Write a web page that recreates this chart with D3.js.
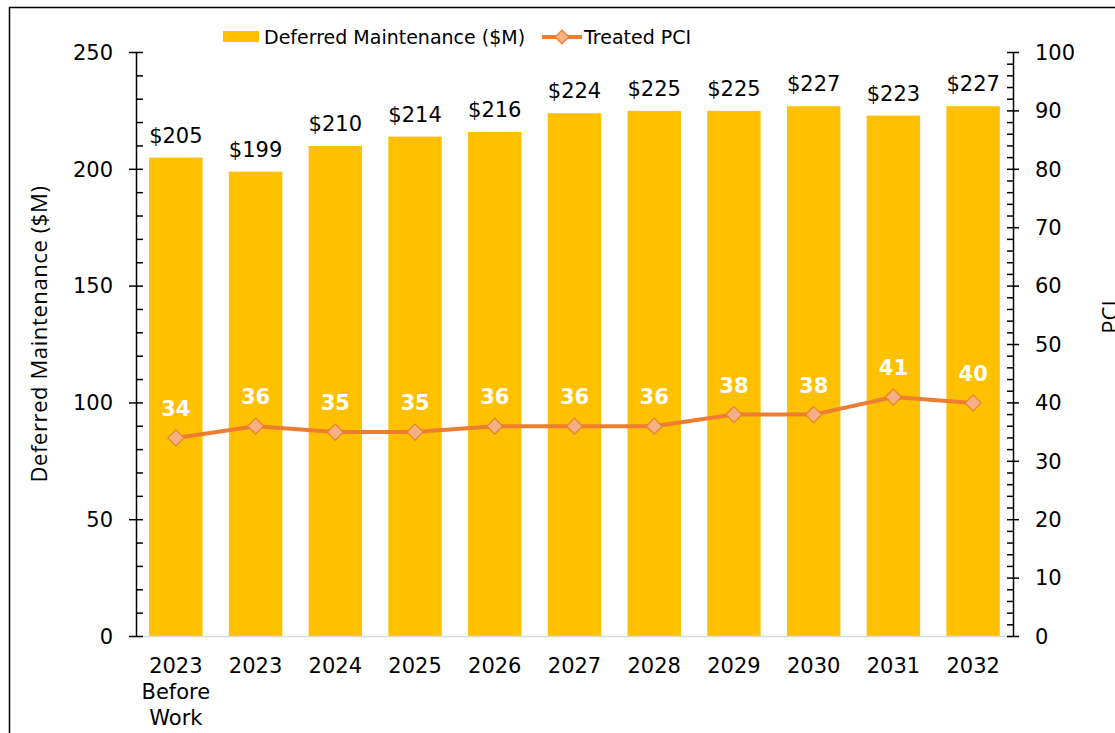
<!DOCTYPE html>
<html>
<head>
<meta charset="utf-8">
<script src="https://cdn.jsdelivr.net/npm/d3@7"></script>
<style>
  body { margin: 0; background: #fff; }
  svg { display: block; font-family: "DejaVu Sans", Verdana, sans-serif; }
</style>
</head>
<body>
<svg id="chart" width="1115" height="733"></svg>
<script>
// categories + values
var categories = ["2023|Before|Work", "2023", "2024", "2025", "2026", "2027", "2028", "2029", "2030", "2031", "2032"];
var deferred = [205, 199, 210, 214, 216, 224, 225, 225, 227, 223, 227];
var pci = [34, 36, 35, 35, 36, 36, 36, 38, 38, 41, 40];
var leftTicks = [0, 50, 100, 150, 200, 250];
var rightTicks = [0, 10, 20, 30, 40, 50, 60, 70, 80, 90, 100];

var barColor = "#FFC000";
var lineColor = "#ED7D31";
var markerFill = "#F4B183";

var svg = d3.select("#chart");
var plotLeft = 136, plotRight = 1013, plotTop = 52.5, plotBottom = 636.5;

// outer frame (right/bottom edges run off the picture)
svg.append("rect")
  .attr("x", 9.5).attr("y", 7.5)
  .attr("width", 1300).attr("height", 900)
  .attr("fill", "none").attr("stroke", "#000").attr("stroke-width", 1.5);

var x = d3.scaleBand()
  .domain(d3.range(categories.length))
  .range([plotLeft, plotRight])
  .paddingInner(0.33)
  .paddingOuter(0.165);

var y = d3.scaleLinear().domain([0, 250]).range([plotBottom, plotTop]);
var y2 = d3.scaleLinear().domain([0, 100]).range([plotBottom, plotTop]);

// bars
svg.append("g").selectAll("rect")
  .data(deferred)
  .enter().append("rect")
  .attr("x", (d, i) => x(i))
  .attr("y", d => y(d))
  .attr("width", x.bandwidth())
  .attr("height", d => y(0) - y(d))
  .attr("fill", barColor);

// bar labels
svg.append("g").selectAll("text")
  .data(deferred)
  .enter().append("text")
  .attr("x", (d, i) => x(i) + x.bandwidth() / 2)
  .attr("y", d => y(d) - 15)
  .attr("text-anchor", "middle")
  .style("font-size", "21px")
  .attr("fill", "#000")
  .text(d => "$" + d);

// baseline
svg.append("line")
  .attr("x1", plotLeft).attr("x2", plotRight)
  .attr("y1", plotBottom).attr("y2", plotBottom)
  .attr("stroke", "#d9d9d9").attr("stroke-width", 1.5);

// left axis
var gl = svg.append("g").attr("transform", "translate(" + plotLeft + ",0)");
gl.call(d3.axisLeft(y).tickValues(leftTicks).tickSize(0).tickPadding(23))
  .call(g => g.select(".domain").attr("stroke", "#000").attr("stroke-width", 1.5))
  .selectAll("text").style("font-size", "21px").attr("fill", "#000")
  .style("font-family", "DejaVu Sans, Verdana, sans-serif");
gl.selectAll(".minor").data(d3.range(0, 251, 10)).enter().append("line")
  .attr("x1", d => d % 50 == 0 ? -7 : 0).attr("x2", 7)
  .attr("y1", d => y(d)).attr("y2", d => y(d))
  .attr("stroke", "#000").attr("stroke-width", 1.5);

// right axis
var gr = svg.append("g").attr("transform", "translate(" + plotRight + ",0)");
gr.call(d3.axisRight(y2).tickValues(rightTicks).tickSize(0).tickPadding(22))
  .call(g => g.select(".domain").attr("stroke", "#000").attr("stroke-width", 1.5))
  .selectAll("text").style("font-size", "21px").attr("fill", "#000")
  .style("font-family", "DejaVu Sans, Verdana, sans-serif");
gr.selectAll(".minor").data(d3.range(0, 101, 2)).enter().append("line")
  .attr("x1", -6).attr("x2", d => d % 10 == 0 ? 6 : 0)
  .attr("y1", d => y2(d)).attr("y2", d => y2(d))
  .attr("stroke", "#000").attr("stroke-width", 1.5);

// category labels (multi-line)
var cat = svg.append("g").selectAll("text")
  .data(categories)
  .enter().append("text")
  .attr("x", (d, i) => x(i) + x.bandwidth() / 2)
  .attr("y", 673)
  .attr("text-anchor", "middle")
  .style("font-size", "21px");
cat.each(function (d, i) {
  var parts = d.split("|");
  var t = d3.select(this);
  parts.forEach(function (p, j) {
    t.append("tspan")
      .attr("x", x(i) + x.bandwidth() / 2)
      .attr("dy", j == 0 ? 0 : 26)
      .text(p);
  });
});

// axis titles
svg.append("text")
  .attr("transform", "translate(47,334) rotate(-90)")
  .attr("text-anchor", "middle")
  .style("font-family", "'Open Sans', sans-serif")
  .style("font-size", "22px")
  .style("letter-spacing", "0.6px")
  .text("Deferred Maintenance ($M)");

svg.append("text")
  .attr("transform", "translate(1118,317) rotate(-90)")
  .attr("text-anchor", "middle")
  .style("font-family", "'Open Sans', sans-serif")
  .style("font-size", "22px")
  .text("PCI");

// PCI line
var line = d3.line()
  .x((d, i) => x(i) + x.bandwidth() / 2)
  .y(d => y2(d));

svg.append("path")
  .datum(pci)
  .attr("d", line)
  .attr("fill", "none")
  .attr("stroke", lineColor)
  .attr("stroke-width", 4)
  .attr("stroke-linejoin", "round");

function diamond(cx, cy, r) {
  return "M" + cx + "," + (cy - r) + "L" + (cx + r) + "," + cy +
    "L" + cx + "," + (cy + r) + "L" + (cx - r) + "," + cy + "Z";
}

svg.append("g").selectAll("path")
  .data(pci)
  .enter().append("path")
  .attr("d", (d, i) => diamond(x(i) + x.bandwidth() / 2, y2(d), 8))
  .attr("fill", markerFill)
  .attr("stroke", lineColor)
  .attr("stroke-width", 1.2);

svg.append("g").selectAll("text")
  .data(pci)
  .enter().append("text")
  .attr("x", (d, i) => x(i) + x.bandwidth() / 2)
  .attr("y", d => y2(d) - 22)
  .attr("text-anchor", "middle")
  .style("font-size", "21px")
  .style("font-weight", "bold")
  .attr("fill", "#fff")
  .text(d => d);

// legend
var leg = svg.append("g");
leg.append("rect")
  .attr("x", 223).attr("y", 31)
  .attr("width", 36).attr("height", 11)
  .attr("fill", barColor);
leg.append("text")
  .attr("x", 264).attr("y", 44)
  .style("font-size", "19px")
  .text("Deferred Maintenance ($M)");
leg.append("line")
  .attr("x1", 542).attr("x2", 582)
  .attr("y1", 37).attr("y2", 37)
  .attr("stroke", lineColor).attr("stroke-width", 4);
leg.append("path")
  .attr("d", diamond(562, 37, 7))
  .attr("fill", markerFill)
  .attr("stroke", lineColor)
  .attr("stroke-width", 1.2);
leg.append("text")
  .attr("x", 584).attr("y", 44)
  .style("font-size", "19px")
  .text("Treated PCI");
</script>
</body>
</html>
